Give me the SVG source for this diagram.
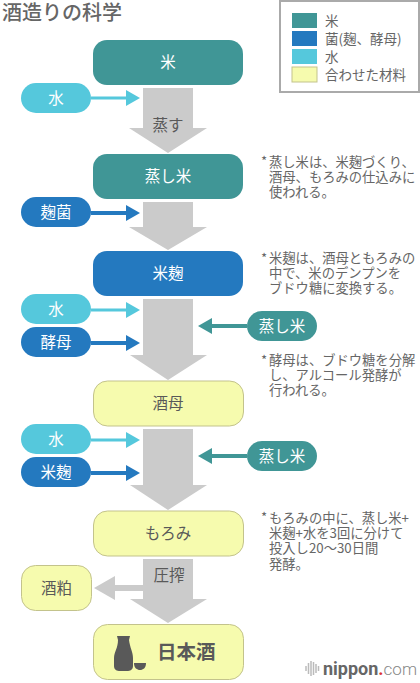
<svg xmlns="http://www.w3.org/2000/svg" width="420" height="683" viewBox="0 0 420 683">
<style>
text{font-family:"Noto Sans CJK JP","Noto Sans",sans-serif}
.lab{font-size:15.500px;text-anchor:middle;fill:#fff}
.dk{font-size:15.500px;text-anchor:middle;fill:#595959}
.note{font-size:13.300px;fill:#666}
.leg{font-size:13.500px;fill:#666}
.rice{fill:#409696}.koji{fill:#2479bf}.water{fill:#55c8dc}
.mix{fill:#f6fbae;stroke:#c3c38c;stroke-width:1}
.gray{fill:#cbcbcb}
</style>
<rect width="420" height="683" fill="#fff"/>
<text id="title" x="2" y="20" fill="#666" style="font-size:20px;font-weight:500">酒造りの科学</text>
<g id="legend">
<rect x="280" y="1" width="139" height="91" fill="#fff" stroke="#aaa" stroke-width="2"/>
<rect class="rice" x="292" y="13" width="25" height="15"/>
<rect class="koji" x="292" y="31" width="25" height="15"/>
<rect class="water" x="292" y="49" width="25" height="15"/>
<rect class="mix" x="292" y="67" width="25" height="15"/>
<text class="leg" x="325" y="26">米</text>
<text class="leg" x="325" y="44">菌(麹、酵母)</text>
<text class="leg" x="325" y="62">水</text>
<text class="leg" x="325" y="80">合わせた材料</text>
</g>
<g id="connectors">
<polygon class="gray" points="143,88 193,88 193,128 207,128 168,153 129,128 143,128"/>
<polygon class="gray" points="143,202 193,202 193,227 207,227 168,250 129,227 143,227"/>
<polygon class="gray" points="143,299 193,299 193,355 207,355 168,380 130,355 143,355"/>
<polygon class="gray" points="143,429 193,429 193,485 207,485 168,510 130,485 143,485"/>
<polygon class="gray" points="143,559 193,559 193,599 207,599 168,623 130,599 143,599"/>
<polygon class="gray" points="143,585 115,585 115,576 94,588 115,600 115,591 143,591"/>
<polygon class="water" points="91,96.500 126,96.500 126,90 140,98 126,106 126,99.500 91,99.500"/>
<polygon class="koji" points="91,211 126,211 126,205 140,213 126,221 126,215 91,215"/>
<polygon class="water" points="91,308.500 126,308.500 126,302 140,310 126,318 126,311.500 91,311.500"/>
<polygon class="koji" points="91,341 126,341 126,335 140,343 126,351 126,345 91,345"/>
<polygon class="water" points="91,438.500 126,438.500 126,432 140,440 126,448 126,441.500 91,441.500"/>
<polygon class="koji" points="91,471 126,471 126,465 140,473 126,481 126,475 91,475"/>
<polygon class="rice" points="247,324 212,324 212,318 198,326 212,334 212,328 247,328"/>
<polygon class="rice" points="247,454 212,454 212,448 198,456 212,464 212,458 247,458"/>
</g>
<g id="n-rice"><rect class="rice" x="93" y="40" width="150" height="45" rx="14"/><text class="lab" x="168" y="68">米</text></g>
<g id="n-steam-label"><text class="dk" x="168" y="131">蒸す</text></g>
<g id="n-water1"><rect class="water" x="21" y="83" width="70" height="30" rx="15"/><text class="lab" x="56" y="104">水</text></g>
<g id="n-steamed"><rect class="rice" x="93" y="154" width="150" height="45" rx="14"/><text class="lab" x="168" y="182">蒸し米</text></g>
<g id="n-kin"><rect class="koji" x="21" y="197" width="70" height="30" rx="15"/><text class="lab" x="56" y="218">麹菌</text></g>
<g id="n-kome-koji"><rect class="koji" x="93" y="251" width="150" height="45" rx="14"/><text class="lab" x="168" y="279">米麹</text></g>
<g id="n-water2"><rect class="water" x="21" y="294" width="70" height="30" rx="15"/><text class="lab" x="56" y="315">水</text></g>
<g id="n-yeast"><rect class="koji" x="21" y="327" width="70" height="30" rx="15"/><text class="lab" x="56" y="348">酵母</text></g>
<g id="n-steamed2"><rect class="rice" x="247" y="311" width="70" height="30" rx="15"/><text class="lab" x="282" y="332">蒸し米</text></g>
<g id="n-shubo"><rect class="mix" x="93.500" y="381" width="150" height="45" rx="14"/><text class="dk" x="168" y="409">酒母</text></g>
<g id="n-water3"><rect class="water" x="21" y="424" width="70" height="30" rx="15"/><text class="lab" x="56" y="445">水</text></g>
<g id="n-koji3"><rect class="koji" x="21" y="457" width="70" height="30" rx="15"/><text class="lab" x="56" y="478">米麹</text></g>
<g id="n-steamed3"><rect class="rice" x="247" y="441" width="70" height="30" rx="15"/><text class="lab" x="282" y="462">蒸し米</text></g>
<g id="n-moromi"><rect class="mix" x="93.500" y="511" width="150" height="45" rx="14"/><text class="dk" x="168" y="539">もろみ</text></g>
<text class="dk" x="169" y="581">圧搾</text>
<g id="n-kasu"><rect class="mix" x="21.500" y="565.500" width="70" height="45" rx="14"/><text class="dk" x="56.500" y="594">酒粕</text></g>
<g id="n-sake"><rect class="mix" x="93.500" y="624.500" width="150" height="55" rx="14"/>
<path d="M117,636H130L129,640C130,648 133,652 133,658V666C133,670 130,671 127,671H120C117,671 114,670 114,666V658C114,652 118,648 118,640Z" fill="#595959"/>
<path d="M134,663H146C146,668 143,670 140,670C137,670 134,668 134,663Z" fill="#595959"/>
<text x="157" y="659" font-weight="700" fill="#595959" style="font-size:19.500px">日本酒</text></g>
<g id="notes">
<text class="note"><tspan x="261" y="166">*</tspan><tspan x="269" y="167">蒸し米は、米麹づくり、</tspan><tspan x="269" y="182">酒母、もろみの仕込みに</tspan><tspan x="269" y="197">使われる。</tspan></text>
<text class="note"><tspan x="261" y="263">*</tspan><tspan x="269" y="263">米麹は、酒母ともろみの</tspan><tspan x="269" y="278">中で、米のデンプンを</tspan><tspan x="269" y="293">ブドウ糖に変換する。</tspan></text>
<text class="note"><tspan x="261" y="365">*</tspan><tspan x="269" y="365">酵母は、ブドウ糖を分解</tspan><tspan x="269" y="380">し、アルコール発酵が</tspan><tspan x="269" y="395">行われる。</tspan></text>
<text class="note"><tspan x="261" y="522">*</tspan><tspan x="269" y="523">もろみの中に、蒸し米+</tspan><tspan x="269" y="538">米麹+水を3回に分けて</tspan><tspan x="269" y="553">投入し20〜30日間</tspan><tspan x="269" y="569">発酵。</tspan></text>
</g>
<g id="logo">
<path d="M306,666v5M308.500,663v11M311,661v15M313.500,662v13M316,664v9M318.500,666v5" stroke="#bbb" stroke-width="1.500"/>
<text x="323" y="675" fill="#666" style="font-family:Roboto,sans-serif;font-size:18px;font-weight:700">nippon<tspan fill="#d33">.</tspan><tspan font-weight="300" fill="#888" style="font-size:17px">com</tspan></text>
</g>
</svg>
